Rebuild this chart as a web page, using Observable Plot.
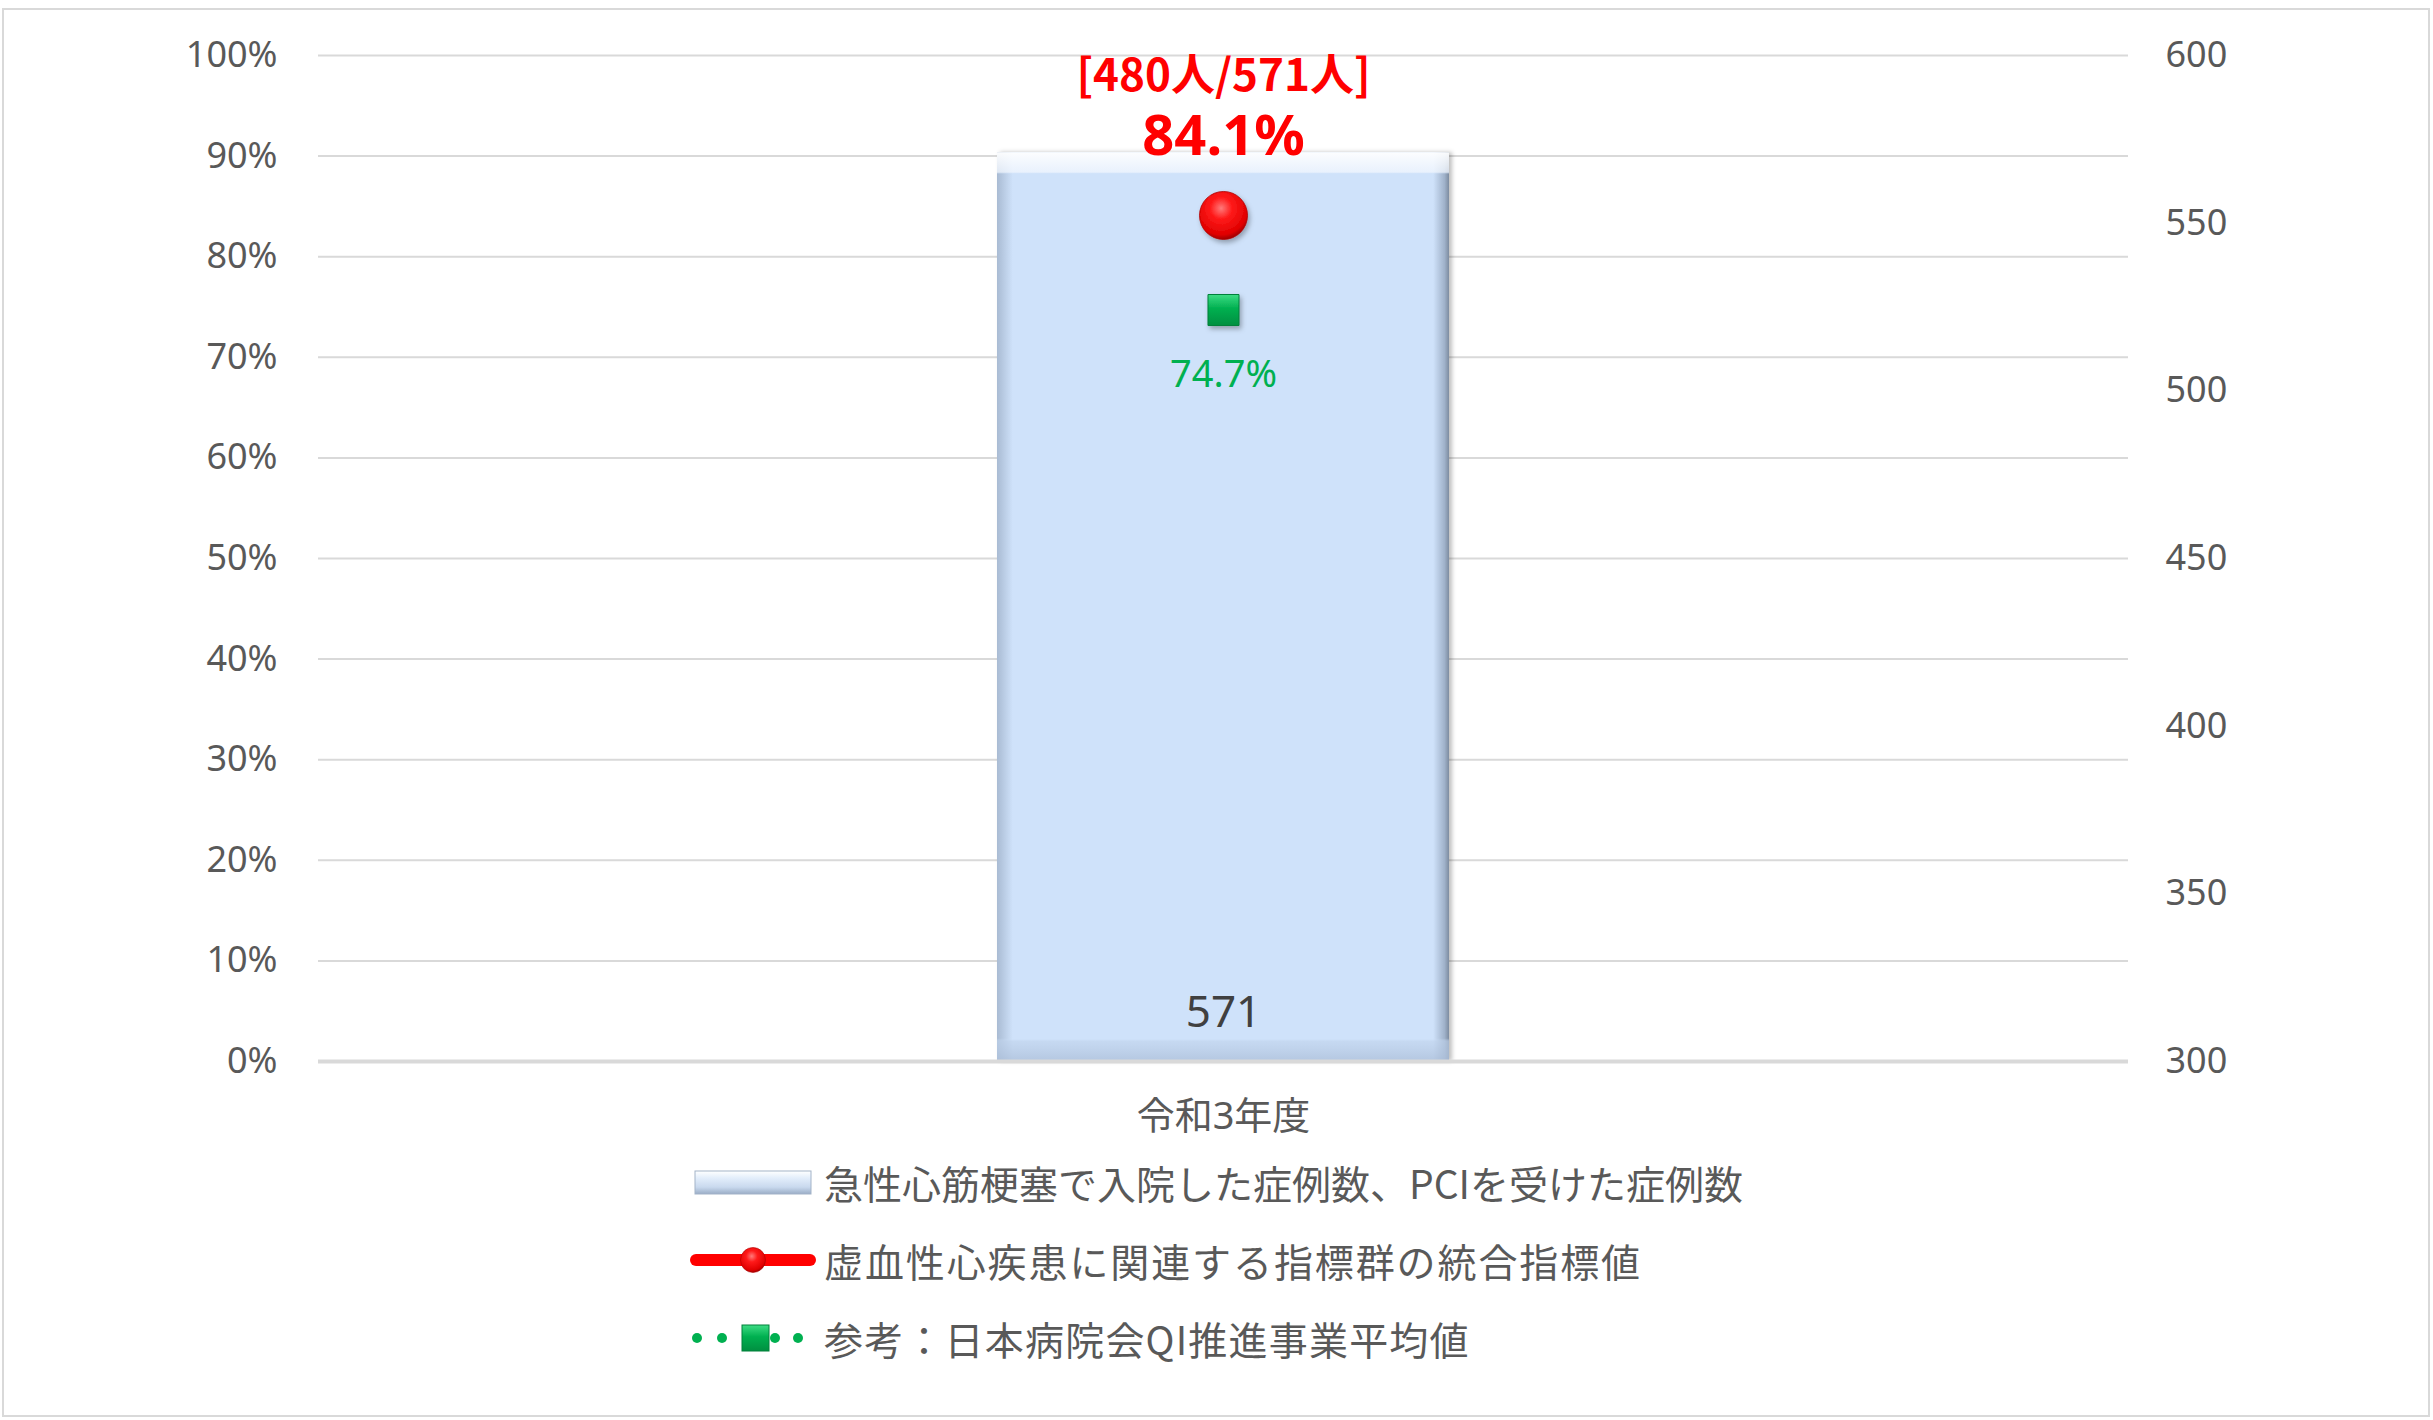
<!DOCTYPE html>
<html>
<head>
<meta charset="utf-8">
<script src="https://cdn.jsdelivr.net/npm/d3@7"></script>
<script src="https://cdn.jsdelivr.net/npm/@observablehq/plot@0.6"></script>
<style>
  html, body { margin: 0; padding: 0; background: #fff; }
  #wrap { position: relative; width: 2433px; height: 1420px; overflow: hidden; }
  #frame { position: absolute; left: 2px; top: 8px; width: 2424px; height: 1405px; border: 2px solid #d9d9d9; pointer-events: none; }
  #chart { position: absolute; left: 0; top: 0; }
  #legend { position: absolute; left: 690px; top: 1143px; font-family: "Noto Sans CJK JP", "Noto Sans", sans-serif; font-size: 39px; color: #595959; }
  .row { display: flex; align-items: center; height: 78px; }
  .row svg { flex: none; margin-right: 8px; }
</style>
</head>
<body>
<div id="wrap">
  <div id="chart"></div>
  <div id="legend"></div>
  <div id="frame"></div>
</div>
<script>
// ---- data ----
const categories = ["令和3年度"];
const caseCounts = [571];              // right axis (件数)
const numerators = [480];
const denominators = [571];
const compositeRates = [0.841];        // 統合指標値
const qiAverages = [0.747];            // QI推進事業平均値
const leftTicks = [0, 0.1, 0.2, 0.3, 0.4, 0.5, 0.6, 0.7, 0.8, 0.9, 1.0];
const rightTicks = [300, 350, 400, 450, 500, 550, 600];
const seriesNames = [
  "急性心筋梗塞で入院した症例数、PCIを受けた症例数",
  "虚血性心疾患に関連する指標群の統合指標値",
  "参考：日本病院会QI推進事業平均値"
];

// secondary (right) axis maps onto the primary [0,1] scale
const rightDomain = [rightTicks[0], rightTicks[rightTicks.length - 1]];
const toLeft = v => (v - rightDomain[0]) / (rightDomain[1] - rightDomain[0]);
const fromLeft = p => Math.round(rightDomain[0] + p * (rightDomain[1] - rightDomain[0]));

const rows = categories.map((c, i) => ({
  cat: c,
  count: caseCounts[i],
  countPos: toLeft(caseCounts[i]),
  rate: compositeRates[i],
  qi: qiAverages[i],
  frac: `[${numerators[i]}人/${denominators[i]}人]`,
  rateLabel: (compositeRates[i] * 100).toFixed(1) + "%",
  qiLabel: (qiAverages[i] * 100).toFixed(1) + "%"
}));

const grid = "#d9d9d9";
const ink = "#595959";

const plot = Plot.plot({
  width: 2433,
  height: 1150,
  marginLeft: 318,
  marginRight: 305,
  marginTop: 55,
  marginBottom: 89,
  style: { fontFamily: "'Noto Sans', 'Noto Sans CJK JP', sans-serif", background: "transparent", overflow: "visible" },
  x: { domain: categories, padding: 0.6, label: null },
  y: { domain: [0, 1], label: null },
  marks: [
    Plot.ruleY(leftTicks.filter(d => d > 0), { stroke: grid, strokeWidth: 2 }),
    // bar (right axis)
    Plot.barY(rows, { x: "cat", y: "countPos", fill: "url(#barH)" }),
    Plot.barY(rows, { x: "cat", y: "countPos", fill: "url(#barV)" }),
    Plot.ruleY([0], { stroke: grid, strokeWidth: 4 }),
    Plot.text(rows, { x: "cat", y: 0, text: d => String(d.count), dy: -49, fontSize: 44, fill: "#404040", lineAnchor: "middle" }),
    // labels above bar
    Plot.text(rows, { x: "cat", y: "countPos", text: "frac", dy: -76, fontSize: 44, fontWeight: 600, fill: "#ff0000", lineAnchor: "middle", fontFamily: "'Noto Sans CJK JP', sans-serif" }),
    Plot.text(rows, { x: "cat", y: "countPos", text: "rateLabel", dy: -16, fontSize: 56, fontWeight: "bold", fill: "#ff0000", lineAnchor: "middle" }),
    // QI average
    Plot.dot(rows, { x: "cat", y: "qi", symbol: "square", r: 17.5, fill: "url(#greenSq)", stroke: "#00803a", strokeWidth: 1 }),
    Plot.text(rows, { x: "cat", y: "qi", text: "qiLabel", dy: 65, fontSize: 38, fill: "#00b050", lineAnchor: "middle" }),
    // composite rate
    Plot.dot(rows, { x: "cat", y: "rate", r: 24, fill: "url(#redBall)", stroke: "#b00000", strokeWidth: 0.8 }),
    // axes
    Plot.axisY(leftTicks, { anchor: "left", tickFormat: d3.format(".0%"), tickSize: 0, tickPadding: 41, fontSize: 36, color: ink }),
    Plot.axisY(rightTicks.map(toLeft), { anchor: "right", tickFormat: fromLeft, tickSize: 0, tickPadding: 37, fontSize: 36, color: ink }),
    Plot.axisX({ tickSize: 0, tickPadding: 41, fontSize: 38, color: ink })
  ]
});

// gradients / effects
const ns = "http://www.w3.org/2000/svg";
const defs = document.createElementNS(ns, "defs");
defs.innerHTML = `
  <linearGradient id="barH" x1="0" y1="0" x2="1" y2="0">
    <stop offset="0" stop-color="#a9bbd3"/>
    <stop offset="0.035" stop-color="#cfe2fa"/>
    <stop offset="0.965" stop-color="#cfe2fa"/>
    <stop offset="0.99" stop-color="#a0b2ca"/>
    <stop offset="1" stop-color="#7d8ca0"/>
  </linearGradient>
  <linearGradient id="barV" x1="0" y1="0" x2="0" y2="1">
    <stop offset="0" stop-color="#ffffff" stop-opacity="0.95"/>
    <stop offset="0.022" stop-color="#f2f7fe" stop-opacity="0.75"/>
    <stop offset="0.024" stop-color="#cfe2fa" stop-opacity="0"/>
    <stop offset="0.975" stop-color="#cfe2fa" stop-opacity="0"/>
    <stop offset="0.978" stop-color="#c0d3ec" stop-opacity="0.6"/>
    <stop offset="1" stop-color="#adc0da" stop-opacity="0.8"/>
  </linearGradient>
  <radialGradient id="redBall" cx="0.45" cy="0.35" r="0.65">
    <stop offset="0" stop-color="#ff7a7a"/>
    <stop offset="0.35" stop-color="#ff1a1a"/>
    <stop offset="0.85" stop-color="#e00000"/>
    <stop offset="1" stop-color="#a00000"/>
  </radialGradient>
  <linearGradient id="greenSq" x1="0" y1="0" x2="0" y2="1">
    <stop offset="0" stop-color="#3ddc84"/>
    <stop offset="0.45" stop-color="#00b050"/>
    <stop offset="1" stop-color="#008f40"/>
  </linearGradient>
  <filter id="shadow" x="-50%" y="-50%" width="200%" height="200%">
    <feDropShadow dx="2" dy="3" stdDeviation="2.5" flood-color="#000" flood-opacity="0.3"/>
  </filter>
  <filter id="barShadow" x="-5%" y="-5%" width="110%" height="110%">
    <feDropShadow dx="3" dy="0" stdDeviation="2" flood-color="#000" flood-opacity="0.25"/>
  </filter>
`;
plot.insertBefore(defs, plot.firstChild);
plot.querySelectorAll('[fill="url(#redBall)"], [fill="url(#greenSq)"]').forEach(el => el.setAttribute("filter", "url(#shadow)"));
plot.querySelectorAll('[fill="url(#barH)"]').forEach(el => el.setAttribute("filter", "url(#barShadow)"));
document.getElementById("chart").appendChild(plot);

// legend
const legendSymbols = [
  `<svg width="126" height="30" viewBox="0 0 126 30">
     <defs><linearGradient id="lgBar" x1="0" y1="0" x2="0" y2="1">
       <stop offset="0" stop-color="#ffffff"/><stop offset="0.3" stop-color="#e3eefb"/>
       <stop offset="0.7" stop-color="#c9d9ee"/><stop offset="1" stop-color="#9aadc6"/></linearGradient></defs>
     <rect x="5" y="4" width="116" height="23" fill="url(#lgBar)" stroke="#a3b3c8" stroke-width="1"/>
   </svg>`,
  `<svg width="126" height="30" viewBox="0 0 126 30">
     <line x1="6" y1="15" x2="120" y2="15" stroke="#ff0000" stroke-width="12" stroke-linecap="round"/>
     <circle cx="63" cy="15" r="12.5" fill="url(#redBall)" stroke="#b00000" stroke-width="0.6"/>
   </svg>`,
  `<svg width="126" height="30" viewBox="0 0 126 30">
     <circle cx="7" cy="15" r="5" fill="#00b050"/><circle cx="32" cy="15" r="5" fill="#00b050"/>
     <circle cx="85" cy="15" r="5" fill="#00b050"/><circle cx="108" cy="15" r="5" fill="#00b050"/>
     <rect x="52" y="2" width="27" height="26" fill="url(#greenSq)" stroke="#00803a" stroke-width="1"/>
   </svg>`
];
const spacing = [0, 1.9, 1.2];
const legend = document.getElementById("legend");
seriesNames.forEach((name, i) => {
  const row = document.createElement("div");
  row.className = "row";
  row.innerHTML = legendSymbols[i] + `<span style="letter-spacing:${spacing[i]}px">${name}</span>`;
  legend.appendChild(row);
});
</script>
</body>
</html>
